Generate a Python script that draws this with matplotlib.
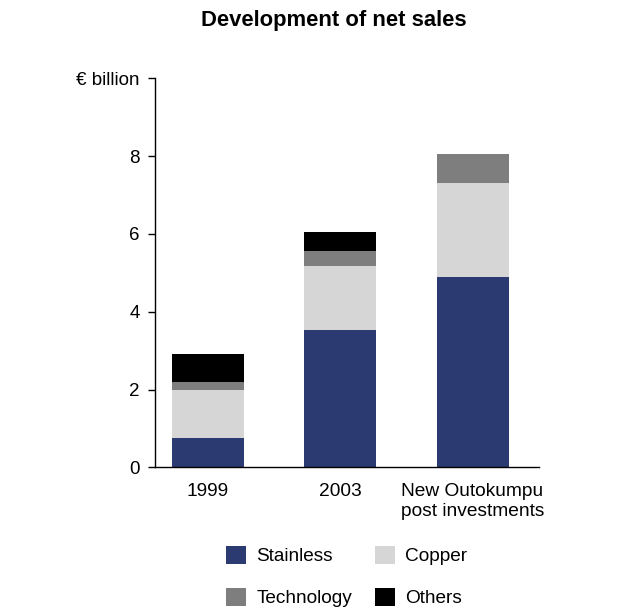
import matplotlib
matplotlib.use("Agg")
import matplotlib.pyplot as plt
from matplotlib.patches import Patch
import numpy as np

plt.rcParams['font.family'] = ['Liberation Sans', 'DejaVu Sans']

categories = ["1999", "2003", "New Outokumpu\npost investments"]
segments = ["Stainless", "Copper", "Technology", "Others"]
stainless = [0.76, 3.53, 4.90]
copper = [1.23, 1.64, 2.41]
technology = [0.21, 0.39, 0.74]
others = [0.71, 0.49, 0.0]
ytick_values = [0, 2, 4, 6, 8, 10]
ytick_labels = ["0", "2", "4", "6", "8", "€ billion"]

colors = {"Stainless": "#2c3a72", "Copper": "#d6d6d6",
          "Technology": "#7e7e7e", "Others": "#000000"}

fig = plt.figure(figsize=(6.29, 6.15), dpi=100)
ax = fig.add_axes([155 / 629, 1 - 467.3 / 615, 384 / 629, 389 / 615])

x = np.arange(len(categories))
bottom = np.zeros(len(categories))
for name, vals in zip(segments, [stainless, copper, technology, others]):
    ax.bar(x, vals, width=0.545, bottom=bottom, color=colors[name],
           linewidth=0, label=name)
    bottom += np.array(vals)

ax.set_xlim(-0.4, 2.5)
ax.set_ylim(0, 10)
ax.set_yticks(ytick_values)
ax.set_yticklabels(ytick_labels, fontsize=13.5)
ax.set_xticks(x)
labels = ax.set_xticklabels(categories, fontsize=13.8)
for lab in labels:
    lab.set_multialignment('left')
    lab.set_linespacing(1.25)
ax.tick_params(axis='x', length=0, pad=11)
ax.tick_params(axis='y', length=5, width=1, pad=6, direction='out')
for side in ("top", "right"):
    ax.spines[side].set_visible(False)
for side in ("left", "bottom"):
    ax.spines[side].set_linewidth(1)

fig.text(333.7 / 629, 1 - 20.5 / 615, "Development of net sales",
         ha="center", va="center", fontsize=15.8, fontweight="bold")

# legend filled row by row: Stainless, Copper / Technology, Others
legend_order = ["Stainless", "Technology", "Copper", "Others"]
handles = [Patch(facecolor=colors[s], edgecolor="none", label=s) for s in legend_order]
fig.legend(handles=handles, ncol=2, loc="upper left",
           bbox_to_anchor=(226 / 629, 1 - 546 / 615), frameon=False,
           fontsize=13.7, handlelength=1.05, handleheight=1.05,
           handletextpad=0.55, columnspacing=1.2, labelspacing=1.2,
           borderpad=0, borderaxespad=0)

fig.savefig("out.png", dpi=100, facecolor="white")
